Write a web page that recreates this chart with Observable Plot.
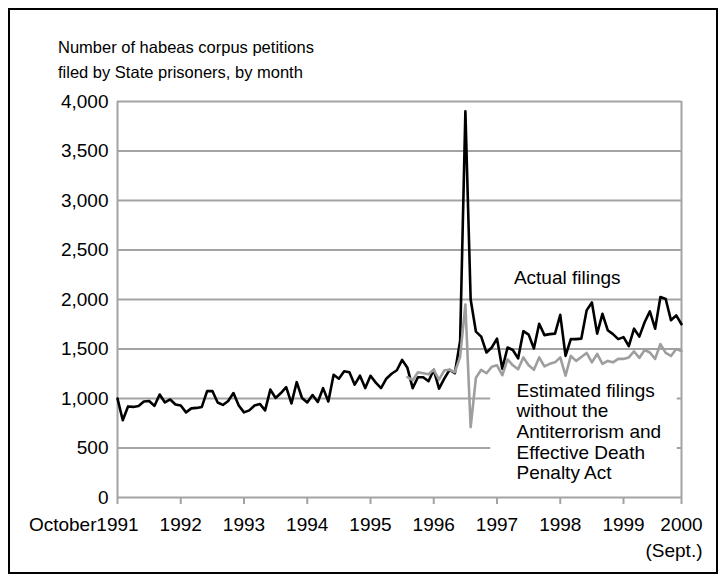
<!DOCTYPE html>
<html><head><meta charset="utf-8">
<script src="https://cdn.jsdelivr.net/npm/d3@7"></script>
<script src="https://cdn.jsdelivr.net/npm/@observablehq/plot@0.6"></script>
<style>
body{margin:0;background:#fff;font-family:"Liberation Sans",Arial,Helvetica,sans-serif;}
#wrap{position:relative;width:726px;height:582px;overflow:hidden;}
#frame{position:absolute;left:8px;top:8px;width:710px;height:566px;border:2px solid #000;box-sizing:border-box;}
#title{position:absolute;left:58px;top:35px;font-size:16.5px;line-height:25px;color:#000;white-space:nowrap;}
#chart{position:absolute;left:0;top:0;}
</style></head><body>
<div id="wrap"><div id="chart"></div><div id="frame"></div>
<div id="title">Number of habeas corpus petitions<br>filed by State prisoners, by month</div></div>
<script>
// Monthly filings, October 1991 (index 0) to September 2000 (index 107)
const actualFilings = [
  1000, 780, 920, 915, 925, 970, 975, 925, 1040, 960, 990, 940,
  930, 860, 900, 905, 915, 1075, 1075, 960, 935, 975, 1055, 930,
  860, 880, 930, 945, 880, 1090, 1005, 1055, 1115, 950, 1165, 1005,
  960, 1035, 965, 1105, 970, 1240, 1200, 1275, 1265, 1140, 1230, 1105,
  1230, 1160, 1105, 1200, 1250, 1285, 1390, 1310, 1105, 1215, 1215, 1175,
  1290, 1100, 1200, 1290, 1255, 1580, 3900, 2000, 1675, 1625, 1465, 1515,
  1605, 1300, 1515, 1490, 1405, 1680, 1645, 1505, 1755, 1640, 1650, 1655,
  1845, 1430, 1600, 1600, 1605, 1890, 1970, 1655, 1855, 1690, 1650, 1600,
  1620, 1530, 1705, 1625, 1770, 1880, 1705, 2025, 2005, 1790, 1840, 1750
];
// Estimated filings without AEDPA, starting at month index 55
const estimatedStart = 55;
const estimatedFilings = [
  1215, 1185, 1265, 1255, 1245, 1290, 1190, 1285, 1290, 1265, 1420, 1950,
  710, 1210, 1290, 1255, 1320, 1335, 1235, 1395, 1335, 1295, 1415, 1335,
  1290, 1415, 1325, 1350, 1365, 1415, 1230, 1430, 1380, 1420, 1460, 1365,
  1450, 1350, 1380, 1365, 1400, 1400, 1415, 1475, 1410, 1490, 1465, 1400,
  1550, 1460, 1430, 1500, 1480
];
const xTickIndex = [0, 12, 24, 36, 48, 60, 72, 84, 96, 107];
const xTickLabels = ["1991", "1992", "1993", "1994", "1995", "1996", "1997", "1998", "1999", "2000"];
const yTicks = [0, 500, 1000, 1500, 2000, 2500, 3000, 3500, 4000];
const actualLabel = "Actual filings";
const estimatedLabel = "Estimated filings\nwithout the\nAntiterrorism and\nEffective Death\nPenalty Act";

const actualRows = actualFilings.map((v, i) => ({i, v}));
const estRows = estimatedFilings.map((v, k) => ({i: k + estimatedStart, v}));
const lastIndex = actualFilings.length - 1;

const GRID = "#a3a3a3";
const FS = 19;
const noteGapStart = 70.8, noteGapEnd = 106.2;
const gridFull = yTicks.filter(d => d > 1000);
const gridBroken = yTicks.filter(d => d > 0 && d <= 1000);
const labelMap = new Map(xTickIndex.map((d, k) => [d, xTickLabels[k]]));
const tickLen = 7, tickPad = 13;

const chart = Plot.plot({
  width: 726, height: 582,
  marginLeft: 117, marginRight: 45, marginTop: 101, marginBottom: 85,
  style: {fontFamily: "'Liberation Sans', Arial, sans-serif", fontSize: FS + "px", color: "#000", background: "transparent"},
  x: {domain: [0, lastIndex], label: null},
  y: {domain: [0, 4000], label: null},
  marks: [
    Plot.ruleY(gridFull, {stroke: GRID, strokeWidth: 2}),
    Plot.ruleY(gridBroken, {x1: 0, x2: noteGapStart, stroke: GRID, strokeWidth: 2}),
    Plot.ruleY(gridBroken, {x1: noteGapEnd, x2: lastIndex, stroke: GRID, strokeWidth: 2}),
    Plot.ruleY([0], {stroke: GRID, strokeWidth: 2}),
    Plot.ruleX([0, lastIndex], {stroke: GRID, strokeWidth: 2}),
    Plot.axisX({ticks: xTickIndex, tickFormat: d => labelMap.get(d), tickSize: tickLen, tickPadding: tickPad,
      stroke: GRID, strokeWidth: 2, fill: "#000", strokeOpacity: 1, label: null, fontSize: FS}),
    Plot.axisY({ticks: yTicks, tickFormat: d3.format(","), tickSize: 0, tickPadding: 9, fill: "#000", label: null, fontSize: FS}),
    Plot.text(["October"], {x: 0, y: 0, textAnchor: "end", lineAnchor: "top", dx: -21, dy: tickLen + tickPad, fill: "#000", fontSize: FS}),
    Plot.text(["(Sept.)"], {x: lastIndex, y: 0, textAnchor: "end", lineAnchor: "top", dx: 21, dy: tickLen + tickPad + 26, fill: "#000", fontSize: FS}),
    Plot.line(actualRows, {x: "i", y: "v", stroke: "#000", strokeWidth: 2.6, strokeLinejoin: "round"}),
    Plot.line(estRows, {x: "i", y: "v", stroke: "#9e9e9e", strokeWidth: 2.6, strokeLinejoin: "round"}),
    Plot.text([actualLabel], {x: 75.2, y: 2220, textAnchor: "start", fill: "#000", fontSize: FS}),
    Plot.text([estimatedLabel], {x: 75.7, y: 1165, textAnchor: "start", lineAnchor: "top", lineHeight: 20.6 / FS, fill: "#000", fontSize: FS})
  ]
});
document.getElementById("chart").appendChild(chart);
</script>
</body></html>
